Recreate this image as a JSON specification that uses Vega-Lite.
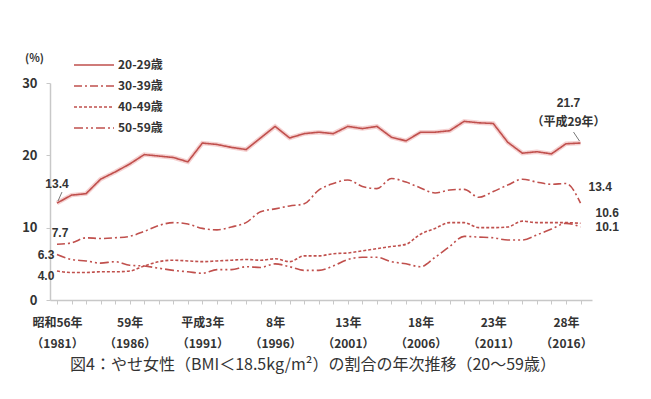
{
  "$schema": "https://vega.github.io/schema/vega-lite/v6.json",
  "width": 542,
  "height": 217,
  "autosize": "none",
  "padding": {"left": 50, "top": 83, "right": 59, "bottom": 99},
  "background": "white",
  "config": {"view": {"stroke": null}, "font": "Noto Sans CJK JP"},
  "title": {"text": "図4：やせ女性（BMI＜18.5kg/m²）の割合の年次推移（20～59歳）", "orient": "bottom", "anchor": "middle", "fontSize": 16, "fontWeight": "normal", "color": "#333333", "offset": 8, "dx": -8, "font": "Noto Sans CJK JP"},
  "datasets": {
    "series": [
      {"year":1981,"age":"20-29歳","value":13.4},{"year":1982,"age":"20-29歳","value":14.5},{"year":1983,"age":"20-29歳","value":14.7},{"year":1984,"age":"20-29歳","value":16.7},{"year":1985,"age":"20-29歳","value":17.7},{"year":1986,"age":"20-29歳","value":18.8},{"year":1987,"age":"20-29歳","value":20.1},{"year":1988,"age":"20-29歳","value":19.9},{"year":1989,"age":"20-29歳","value":19.7},{"year":1990,"age":"20-29歳","value":19.1},{"year":1991,"age":"20-29歳","value":21.7},{"year":1992,"age":"20-29歳","value":21.5},{"year":1993,"age":"20-29歳","value":21.1},{"year":1994,"age":"20-29歳","value":20.8},{"year":1995,"age":"20-29歳","value":22.4},{"year":1996,"age":"20-29歳","value":24.0},{"year":1997,"age":"20-29歳","value":22.4},{"year":1998,"age":"20-29歳","value":23.0},{"year":1999,"age":"20-29歳","value":23.2},{"year":2000,"age":"20-29歳","value":23.0},{"year":2001,"age":"20-29歳","value":24.0},{"year":2002,"age":"20-29歳","value":23.7},{"year":2003,"age":"20-29歳","value":24.0},{"year":2004,"age":"20-29歳","value":22.5},{"year":2005,"age":"20-29歳","value":22.0},{"year":2006,"age":"20-29歳","value":23.2},{"year":2007,"age":"20-29歳","value":23.2},{"year":2008,"age":"20-29歳","value":23.4},{"year":2009,"age":"20-29歳","value":24.7},{"year":2010,"age":"20-29歳","value":24.5},{"year":2011,"age":"20-29歳","value":24.4},{"year":2012,"age":"20-29歳","value":21.8},{"year":2013,"age":"20-29歳","value":20.3},{"year":2014,"age":"20-29歳","value":20.5},{"year":2015,"age":"20-29歳","value":20.2},{"year":2016,"age":"20-29歳","value":21.6},{"year":2017,"age":"20-29歳","value":21.7},
      {"year":1981,"age":"30-39歳","value":7.7},{"year":1982,"age":"30-39歳","value":7.9},{"year":1983,"age":"30-39歳","value":8.6},{"year":1984,"age":"30-39歳","value":8.5},{"year":1985,"age":"30-39歳","value":8.6},{"year":1986,"age":"30-39歳","value":8.8},{"year":1987,"age":"30-39歳","value":9.5},{"year":1988,"age":"30-39歳","value":10.3},{"year":1989,"age":"30-39歳","value":10.7},{"year":1990,"age":"30-39歳","value":10.5},{"year":1991,"age":"30-39歳","value":9.9},{"year":1992,"age":"30-39歳","value":9.7},{"year":1993,"age":"30-39歳","value":10.1},{"year":1994,"age":"30-39歳","value":10.7},{"year":1995,"age":"30-39歳","value":12.2},{"year":1996,"age":"30-39歳","value":12.6},{"year":1997,"age":"30-39歳","value":13.0},{"year":1998,"age":"30-39歳","value":13.3},{"year":1999,"age":"30-39歳","value":15.2},{"year":2000,"age":"30-39歳","value":16.1},{"year":2001,"age":"30-39歳","value":16.6},{"year":2002,"age":"30-39歳","value":15.7},{"year":2003,"age":"30-39歳","value":15.4},{"year":2004,"age":"30-39歳","value":16.8},{"year":2005,"age":"30-39歳","value":16.3},{"year":2006,"age":"30-39歳","value":15.5},{"year":2007,"age":"30-39歳","value":14.8},{"year":2008,"age":"30-39歳","value":15.2},{"year":2009,"age":"30-39歳","value":15.3},{"year":2010,"age":"30-39歳","value":14.2},{"year":2011,"age":"30-39歳","value":15.0},{"year":2012,"age":"30-39歳","value":15.9},{"year":2013,"age":"30-39歳","value":16.7},{"year":2014,"age":"30-39歳","value":16.3},{"year":2015,"age":"30-39歳","value":16.0},{"year":2016,"age":"30-39歳","value":16.1},{"year":2017,"age":"30-39歳","value":13.4},
      {"year":1981,"age":"40-49歳","value":4.0},{"year":1982,"age":"40-49歳","value":3.8},{"year":1983,"age":"40-49歳","value":3.8},{"year":1984,"age":"40-49歳","value":3.9},{"year":1985,"age":"40-49歳","value":3.9},{"year":1986,"age":"40-49歳","value":4.0},{"year":1987,"age":"40-49歳","value":4.7},{"year":1988,"age":"40-49歳","value":5.3},{"year":1989,"age":"40-49歳","value":5.5},{"year":1990,"age":"40-49歳","value":5.4},{"year":1991,"age":"40-49歳","value":5.3},{"year":1992,"age":"40-49歳","value":5.4},{"year":1993,"age":"40-49歳","value":5.5},{"year":1994,"age":"40-49歳","value":5.6},{"year":1995,"age":"40-49歳","value":5.5},{"year":1996,"age":"40-49歳","value":5.7},{"year":1997,"age":"40-49歳","value":5.3},{"year":1998,"age":"40-49歳","value":6.1},{"year":1999,"age":"40-49歳","value":6.1},{"year":2000,"age":"40-49歳","value":6.4},{"year":2001,"age":"40-49歳","value":6.5},{"year":2002,"age":"40-49歳","value":6.8},{"year":2003,"age":"40-49歳","value":7.1},{"year":2004,"age":"40-49歳","value":7.4},{"year":2005,"age":"40-49歳","value":7.7},{"year":2006,"age":"40-49歳","value":9.1},{"year":2007,"age":"40-49歳","value":9.9},{"year":2008,"age":"40-49歳","value":10.7},{"year":2009,"age":"40-49歳","value":10.7},{"year":2010,"age":"40-49歳","value":10.0},{"year":2011,"age":"40-49歳","value":10.0},{"year":2012,"age":"40-49歳","value":10.1},{"year":2013,"age":"40-49歳","value":10.9},{"year":2014,"age":"40-49歳","value":10.7},{"year":2015,"age":"40-49歳","value":10.7},{"year":2016,"age":"40-49歳","value":10.7},{"year":2017,"age":"40-49歳","value":10.6},
      {"year":1981,"age":"50-59歳","value":6.3},{"year":1982,"age":"50-59歳","value":5.6},{"year":1983,"age":"50-59歳","value":5.4},{"year":1984,"age":"50-59歳","value":5.1},{"year":1985,"age":"50-59歳","value":5.3},{"year":1986,"age":"50-59歳","value":4.8},{"year":1987,"age":"50-59歳","value":4.7},{"year":1988,"age":"50-59歳","value":4.4},{"year":1989,"age":"50-59歳","value":4.1},{"year":1990,"age":"50-59歳","value":3.9},{"year":1991,"age":"50-59歳","value":3.7},{"year":1992,"age":"50-59歳","value":4.2},{"year":1993,"age":"50-59歳","value":4.2},{"year":1994,"age":"50-59歳","value":4.6},{"year":1995,"age":"50-59歳","value":4.5},{"year":1996,"age":"50-59歳","value":5.0},{"year":1997,"age":"50-59歳","value":4.6},{"year":1998,"age":"50-59歳","value":4.1},{"year":1999,"age":"50-59歳","value":4.1},{"year":2000,"age":"50-59歳","value":4.7},{"year":2001,"age":"50-59歳","value":5.6},{"year":2002,"age":"50-59歳","value":5.9},{"year":2003,"age":"50-59歳","value":5.9},{"year":2004,"age":"50-59歳","value":5.3},{"year":2005,"age":"50-59歳","value":5.0},{"year":2006,"age":"50-59歳","value":4.6},{"year":2007,"age":"50-59歳","value":5.9},{"year":2008,"age":"50-59歳","value":7.4},{"year":2009,"age":"50-59歳","value":8.8},{"year":2010,"age":"50-59歳","value":8.7},{"year":2011,"age":"50-59歳","value":8.6},{"year":2012,"age":"50-59歳","value":8.3},{"year":2013,"age":"50-59歳","value":8.3},{"year":2014,"age":"50-59歳","value":9.0},{"year":2015,"age":"50-59歳","value":9.8},{"year":2016,"age":"50-59歳","value":10.6},{"year":2017,"age":"50-59歳","value":10.1}
    ],
    "labels": [
      {"id":"l20","year":1981,"value":13.4,"text":"13.4"},
      {"id":"l30","year":1981,"value":7.7,"text":"7.7"},
      {"id":"l50","year":1981,"value":6.3,"text":"6.3"},
      {"id":"l40","year":1981,"value":4.0,"text":"4.0"},
      {"id":"r20a","year":2017,"value":21.7,"text":"21.7"},
      {"id":"r20b","year":2017,"value":21.7,"text":"（平成29年）"},
      {"id":"r30","year":2017,"value":13.4,"text":"13.4"},
      {"id":"r40","year":2017,"value":10.6,"text":"10.6"},
      {"id":"r50","year":2017,"value":10.1,"text":"10.1"}
    ]
  },
  "encoding": {
    "x": {
      "field": "year", "type": "quantitative",
      "scale": {"domain": [1980.52, 2017.79], "nice": false, "zero": false},
      "axis": {
        "title": null, "grid": false,
        "values": [1981,1982,1983,1984,1985,1986,1987,1988,1989,1990,1991,1992,1993,1994,1995,1996,1997,1998,1999,2000,2001,2002,2003,2004,2005,2006,2007,2008,2009,2010,2011,2012,2013,2014,2015,2016,2017],
        "labelExpr": "datum.value == 1981 ? ['昭和56年','（1981）'] : datum.value == 1986 ? ['59年','（1986）'] : datum.value == 1991 ? ['平成3年','（1991）'] : datum.value == 1996 ? ['8年','（1996）'] : datum.value == 2001 ? ['13年','（2001）'] : datum.value == 2006 ? ['18年','（2006）'] : datum.value == 2011 ? ['23年','（2011）'] : datum.value == 2016 ? ['28年','（2016）'] : ''",
        "labelOverlap": false, "labelFlush": false, "labelBound": false,
        "labelFontSize": 12, "labelColor": "#333333", "labelFontWeight": "bold", "labelLineHeight": 21, "labelPadding": 13,
        "tickSize": 4, "tickColor": "#c8c8c8", "domainColor": "#c8c8c8", "domainWidth": 1.5
      }
    },
    "y": {
      "field": "value", "type": "quantitative",
      "scale": {"domain": [0, 30], "nice": false},
      "axis": {
        "title": "(%)", "titleAngle": 0, "titleX": -16, "titleY": -20, "titleFontSize": 11, "titleFontWeight": "bold", "titleColor": "#333333", "titleAlign": "center",
        "values": [0, 10, 20, 30], "grid": false,
        "labelFontSize": 13, "labelColor": "#333333", "labelFontWeight": "bold", "labelPadding": 9,
        "tickSize": 4, "tickColor": "#c8c8c8", "domainColor": "#c8c8c8", "domainWidth": 1.5
      }
    }
  },
  "layer": [
    {
      "data": {"name": "series"},
      "transform": [{"filter": "datum.age == '20-29歳'"}],
      "mark": {"type": "line", "color": "#f3c6c6", "strokeWidth": 4.5, "opacity": 0.8},
      "encoding": {}
    },
    {
      "data": {"name": "series"},
      "transform": [{"filter": "datum.age == '20-29歳'"}],
      "mark": {"type": "line", "color": "#c0504d", "strokeWidth": 1.6},
      "encoding": {
        "strokeDash": {
          "field": "age", "type": "nominal",
          "scale": {"domain": ["20-29歳", "30-39歳", "40-49歳", "50-59歳"], "range": [[1, 0], [8, 3, 2, 3], [3, 2], [9, 3, 2, 3, 2, 3]]},
          "legend": {"orient": "none", "legendX": 33, "legendY": -29, "title": null, "symbolType": "M-2,0H2", "symbolSize": 400, "symbolStrokeWidth": 1.6, "symbolStrokeColor": "#c0504d", "symbolFillColor": "transparent", "labelFontSize": 12, "labelFont": "Noto Sans CJK JP", "labelFontWeight": "bold", "labelColor": "#333333", "rowPadding": 4, "padding": 0, "labelOffset": 13}
        }
      }
    },
    {
      "data": {"name": "series"},
      "transform": [{"filter": "datum.age != '20-29歳'"}],
      "mark": {"type": "line", "color": "#c0504d", "strokeWidth": 1.6, "interpolate": "monotone"},
      "encoding": {
        "strokeDash": {
          "field": "age", "type": "nominal",
          "scale": {"domain": ["20-29歳", "30-39歳", "40-49歳", "50-59歳"], "range": [[1, 0], [8, 3, 2, 3], [3, 2], [9, 3, 2, 3, 2, 3]]}
        }
      }
    },
    {
      "data": {"name": "labels"},
      "transform": [{"filter": "datum.id == 'l20'"}],
      "mark": {"type": "rule", "color": "#555555", "strokeWidth": 0.8, "xOffset": 1, "yOffset": -2, "x2Offset": 5, "y2Offset": -11},
      "encoding": {"x2": {"field": "year"}, "y2": {"field": "value"}}
    },
    {
      "data": {"name": "labels"},
      "transform": [{"filter": "datum.id == 'r20a'"}],
      "mark": {"type": "rule", "color": "#555555", "strokeWidth": 0.8, "xOffset": -1, "yOffset": -2, "x2Offset": -7, "y2Offset": -11},
      "encoding": {"x2": {"field": "year"}, "y2": {"field": "value"}}
    },
    {"data": {"name": "labels"}, "transform": [{"filter": "datum.id == 'l20'"}], "mark": {"type": "text", "dx": 0, "dy": -19, "fontSize": 12, "color": "#333333", "fontWeight": "bold", "font": "Liberation Sans"}, "encoding": {"text": {"field": "text"}}},
    {"data": {"name": "labels"}, "transform": [{"filter": "datum.id == 'l30'"}], "mark": {"type": "text", "dx": 3, "dy": -11, "fontSize": 12, "color": "#333333", "fontWeight": "bold", "font": "Liberation Sans"}, "encoding": {"text": {"field": "text"}}},
    {"data": {"name": "labels"}, "transform": [{"filter": "datum.id == 'l50'"}], "mark": {"type": "text", "dx": -11, "dy": 1, "fontSize": 12, "color": "#333333", "fontWeight": "bold", "font": "Liberation Sans"}, "encoding": {"text": {"field": "text"}}},
    {"data": {"name": "labels"}, "transform": [{"filter": "datum.id == 'l40'"}], "mark": {"type": "text", "dx": -11, "dy": 5, "fontSize": 12, "color": "#333333", "fontWeight": "bold", "font": "Liberation Sans"}, "encoding": {"text": {"field": "text"}}},
    {"data": {"name": "labels"}, "transform": [{"filter": "datum.id == 'r20a'"}], "mark": {"type": "text", "dx": -12, "dy": -40, "fontSize": 12, "color": "#333333", "fontWeight": "bold", "font": "Liberation Sans"}, "encoding": {"text": {"field": "text"}}},
    {"data": {"name": "labels"}, "transform": [{"filter": "datum.id == 'r20b'"}], "mark": {"type": "text", "dx": -12, "dy": -21, "fontSize": 12, "color": "#333333", "fontWeight": "bold", "font": "Noto Sans CJK JP"}, "encoding": {"text": {"field": "text"}}},
    {"data": {"name": "labels"}, "transform": [{"filter": "datum.id == 'r30'"}], "mark": {"type": "text", "dx": 8, "dy": -16, "align": "left", "fontSize": 12, "color": "#333333", "fontWeight": "bold", "font": "Liberation Sans"}, "encoding": {"text": {"field": "text"}}},
    {"data": {"name": "labels"}, "transform": [{"filter": "datum.id == 'r40'"}], "mark": {"type": "text", "dx": 15, "dy": -10, "align": "left", "fontSize": 12, "color": "#333333", "fontWeight": "bold", "font": "Liberation Sans"}, "encoding": {"text": {"field": "text"}}},
    {"data": {"name": "labels"}, "transform": [{"filter": "datum.id == 'r50'"}], "mark": {"type": "text", "dx": 15, "dy": 0, "align": "left", "fontSize": 12, "color": "#333333", "fontWeight": "bold", "font": "Liberation Sans"}, "encoding": {"text": {"field": "text"}}}
  ]
}
